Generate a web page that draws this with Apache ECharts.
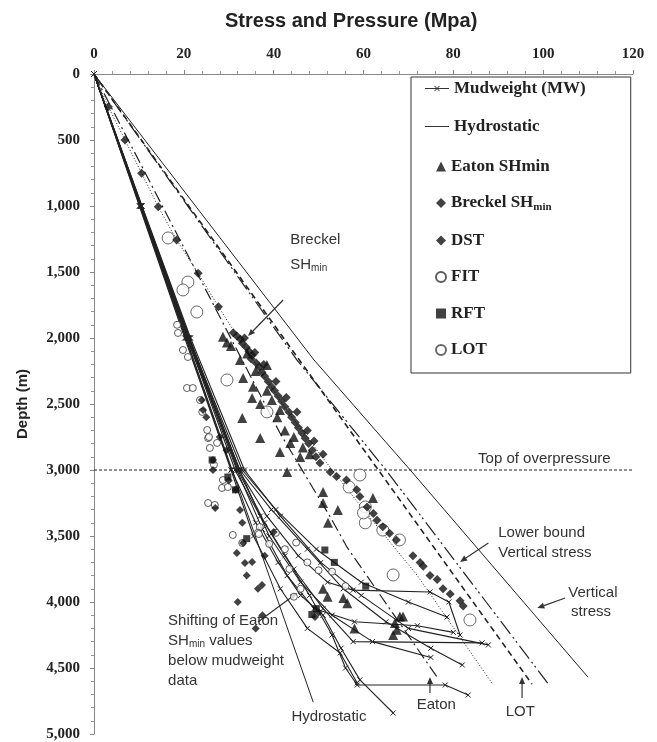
<!DOCTYPE html>
<html><head><meta charset="utf-8">
<script src="https://cdn.jsdelivr.net/npm/echarts/dist/echarts.min.js"></script>
<style>html,body{margin:0;padding:0;background:#fff}#c{width:657px;height:742px}</style>
</head><body><div id="c"></div>
<script>
// ---- data: [stress MPa, depth m] ----
const verticalStress = [[0,0],[49,2167],[70.4,3000],[110,4570]];
const lowerBoundSv = [[0,0],[45.2,2167],[65,3000],[101,4614]];
const lotTrend = [[0,0],[63.3,3000],[97.5,4621]];
const breckelTrend = [[0,0],[3.2,248],[6.9,500],[10.6,752],[14.3,1005],[18.4,1258],[23.2,1510],[27.7,1763],[34,2100],[43,2550],[51.9,2950],[60,3300],[72,3800],[88.9,4629]];
const eatonTrend = [[0,0],[41.4,2720],[52.6,3356],[56.3,3583],[76.4,4570]];
const hydrostatic = [[0,0],[48.8,4758]];
const overpressureTop = [[0,3000],[124,3000]];

const mudweight = [
  [[0,0],[10.2,1000],[20.4,2000],[30.6,3000],[36,3400],[41,3700],[46,3950],[51,4100],[55,4350],[59.2,4590],[66.6,4841]],
  [[0,0],[10.4,1000],[20.8,2000],[31.4,3000],[37,3350],[42.5,3650],[48,3950],[53,4250],[56,4500],[58.6,4629],[78.2,4629],[83.3,4705]],
  [[0,0],[10.6,1000],[21.2,2000],[32,3000],[38,3400],[44.5,3750],[51,4050],[57.7,4300],[86.4,4310]],
  [[0,0],[10.5,1000],[21.0,2000],[32.2,3000],[38.5,3350],[45.5,3650],[52,3850],[57.7,3910],[74.8,3924],[79,4000],[81.5,4250]],
  [[0,0],[10.3,1000],[20.6,2000],[32.5,3000],[39.5,3300],[47.5,3600],[55.5,3900],[65,4150],[75,4350],[82,4477]],
  [[0,0],[10.5,1000],[21.1,2000],[33,3000],[40.5,3300],[49.5,3600],[59.5,3850],[70,4000],[78.6,4114]],
  [[0,0],[10.7,1000],[21.5,2000],[33.5,3000],[41.5,3350],[50.5,3700],[59.5,3950],[70,4200],[87.8,4325]],
  [[0,0],[10.1,1000],[20.2,2000],[30.5,3000],[35.5,3500],[41.5,3900],[47.5,4200],[54.8,4386],[58.6,4613]],
  [[0,0],[10.4,1000],[20.9,2000],[31.8,3000],[37.5,3450],[43,3800],[49,4050],[58,4150],[72,4180],[80,4230]],
  [[0,0],[10.6,1000],[21.3,2000],[32.4,3000],[39,3500],[46,3850],[53,4100],[62,4300],[75,4420]]
];

const breckel = [[3.2,248],[6.9,500],[10.6,752],[14.3,1005],[18.4,1258],[23.2,1510],[27.7,1763],
  [31.0,1960],[31.8,1985],[32.6,2010],[33.0,2040],[33.9,2070],[34.5,2100],[35.2,2130],[35.0,2160],[36.1,2190],[36.8,2220],[37.4,2260],[38.0,2290],[38.8,2330],[39.5,2370],[40.2,2400],[41.0,2440],[41.8,2480],[42.5,2520],[43.4,2560],[44.0,2600],[44.8,2640],[45.5,2680],[46.3,2720],[47.0,2760],[47.8,2800],[48.6,2850],[49.4,2900],[50.3,2947],
  [33.5,2000],[35.8,2110],[37.8,2200],[40.5,2330],[42.8,2450],[45.2,2560],[47.5,2700],[49.0,2780],[51.0,2880],
  [52.6,3015],[54.0,3050],[56.2,3075],[58.5,3150],[59.2,3200],[60.8,3280],[62.2,3330],[63.0,3380],[64.3,3430],[65.8,3480],[67.3,3530],
  [71.0,3650],[72.6,3700],[73.3,3730],[74.8,3800],[76.4,3830],[77.7,3900],[79.3,3940],[81.5,3990],[82.2,4030]];
const eaton = [[28.7,1990],[29.6,2035],[32.5,2167],[34.1,2117],[38.5,2205],[33.2,2303],[35.4,2370],[35.2,2455],[37.0,2500],[39.6,2470],[41.4,2545],[33.0,2606],[37.0,2758],[41.4,2864],[43.7,2795],[45.9,2902],[43.0,3015],[51.0,3167],[51.0,3250],[54.3,3303],[52.1,3400],[62.1,3212],
  [30.5,2060],[36.0,2250],[38.5,2400],[40.8,2600],[42.5,2700],[44.5,2750],[46.5,2830],[48.0,2880],
  [55.5,3970],[56.4,4010],[67.0,4160],[67.4,4210],[68.1,4110],[68.8,4110],[66.6,4250],[52.0,3960],[51.0,3900],[58.0,4200]];
const dst = [[24.3,2545],[26.5,2924],[26.5,3000],[31.5,3150],[27.0,3288],[32.5,3303],[33.2,3553],[31.8,3629],[33.6,3705],[35.2,3697],[24.0,2470],[25.0,2600],[28.0,2750],[29.5,2850],[30.0,3080],[33.0,3400],[34.0,3800],[36.5,3900],[32.0,4000],[37.5,4100],[40.0,3470],[38.0,3650],[36.0,4200],[50.0,4080],[37.4,3871],[49.2,4114]];
const fit = [[20.7,2379],[22.0,2379],[23.6,2470],[24.1,2560],[25.2,2697],[25.4,2758],[25.8,2833],[27.4,2795],[28.7,3076],[28.5,3136],[29.8,3129],[25.4,3250],[26.9,3265],[30.9,3492],[36.9,3432],[33.0,3553],[18.5,1900],[18.7,1962],[19.8,2091],[20.9,2144],[25.6,2750],[26.7,2960],[36.5,3475],[40.5,3476],[36.7,3485],[39.0,3560],[42.5,3600],[45.0,3550],[47.5,3700],[43.5,3750],[50.0,3760],[53.0,3770],[46.0,3900],[44.5,3960],[56.0,3880]];
const rft = [[26.3,2924],[29.8,3053],[31.5,3150],[51.4,3606],[53.5,3700],[34.0,3520],[48.5,4095],[49.5,4050],[60.5,3880]];
const lot = [[16.5,1242],[20.9,1576],[19.8,1636],[22.9,1803],[29.6,2318],[38.5,2560],[59.2,3038],[56.8,3129],[60.4,3280],[60.4,3400],[64.3,3455],[68.0,3530],[66.6,3795],[83.7,4136],[60.0,3325]];

const legendLines = ['Mudweight (MW)','Hydrostatic'];
const legendMarks = ['Eaton SHmin','Breckel SHmin','DST','FIT','RFT','LOT'];

const INK = '#222';
const chart = echarts.init(document.getElementById('c'));
const xMark = 'path://M0,0L10,10M10,0L0,10';

function lineSeries(name, data, type, width, extra) {
  return Object.assign({ name, type:'line', data, symbol:'none', silent:true, animation:false,
    lineStyle:{color:INK, width:width||1, type:type||'solid'}, itemStyle:{color:INK}, z:2 }, extra||{});
}
const series = [];
series.push(lineSeries('Vertical stress', verticalStress, 'solid', 1));
series.push(lineSeries('Lower bound', lowerBoundSv, [16,4,2,3,2,4], 1.2));
series.push(lineSeries('LOT trend', lotTrend, [6,4], 1.6));
series.push(lineSeries('Breckel trend', breckelTrend, [1,2], 1));
series.push(lineSeries('Eaton trend', eatonTrend, [12,4,2,4], 1.2));
series.push(lineSeries('Hydrostatic', hydrostatic, 'solid', 1));
series.push(lineSeries('Top of overpressure', overpressureTop, [3,2], 1, {clip:false}));
mudweight.forEach(d => series.push({ name:'Mudweight (MW)', type:'line', data:d, animation:false,
  symbol:xMark, symbolSize:5, showSymbol:true,
  lineStyle:{color:INK, width:1.1}, itemStyle:{color:INK, borderColor:INK, borderWidth:1}, z:3 }));
function scatter(name, data, symbol, size, fill, border) {
  return { name, type:'scatter', data, symbol, symbolSize:size, animation:false,
    itemStyle:{color:fill, borderColor:border||INK, borderWidth:border?1:0}, z:4 };
}
series.push(scatter('FIT', fit, 'circle', 7, '#fff', '#333'));
series.push(scatter('LOT', lot, 'circle', 12, '#fff', '#444'));
series.push(scatter('Eaton SHmin', eaton, 'triangle', 10, '#111'));
series.push(scatter('Breckel SHmin', breckel, 'diamond', 9, '#111'));
series.push(scatter('DST', dst, 'diamond', 8, '#111'));
series.push(scatter('RFT', rft, 'rect', 7, '#111'));

const legendText = {fontFamily:'Liberation Serif', fontWeight:'bold', fontSize:17, color:INK,
  rich:{ sub:{fontFamily:'Liberation Serif', fontWeight:'bold', fontSize:11, color:INK, padding:[8,0,0,0]} } };
const iconMW = 'path://M0,2.6L24,2.6L24,3.4L0,3.4Z M9.2,0.8L9.8,0.2L14.8,5.2L14.2,5.8Z M14.2,0.2L14.8,0.8L9.8,5.8L9.2,5.2Z';
const iconHydro = 'path://M0,0L24,0L24,1L0,1Z';

chart.setOption({
  backgroundColor:'#fff',
  animation:false,
  title:{ text:'Stress and Pressure (Mpa)', left:220, top:6,
    textStyle:{fontFamily:'Liberation Sans', fontWeight:'bold', fontSize:20, color:INK} },
  grid:{ left:94, top:74, right:24, bottom:8 },
  xAxis:{ type:'value', position:'top', min:0, max:120, interval:20,
    axisLine:{lineStyle:{color:'#888'}}, axisTick:{show:true, length:4, lineStyle:{color:'#888'}},
    minorTick:{show:true, splitNumber:5, length:3, lineStyle:{color:'#999'}},
    splitLine:{show:false},
    axisLabel:{fontFamily:'Liberation Serif', fontWeight:'bold', fontSize:15, color:INK, margin:12} },
  yAxis:{ type:'value', inverse:true, min:0, max:5000, interval:500,
    name:'Depth (m)', nameLocation:'middle', nameGap:64, nameRotate:90,
    nameTextStyle:{fontFamily:'Liberation Sans', fontWeight:'bold', fontSize:15, color:INK},
    axisLine:{lineStyle:{color:'#888'}}, axisTick:{show:true, length:4, lineStyle:{color:'#888'}},
    minorTick:{show:true, splitNumber:5, length:3, lineStyle:{color:'#999'}},
    splitLine:{show:false},
    axisLabel:{fontFamily:'Liberation Serif', fontWeight:'bold', fontSize:15, color:INK, margin:14,
      formatter: v => v.toLocaleString('en-US')} },
  legend:[
    { data:[{name:'Mudweight (MW)', icon:iconMW, itemStyle:{borderWidth:0, color:'#333'}},
            {name:'Hydrostatic', icon:iconHydro, itemStyle:{borderWidth:0, color:'#333'}}],
      orient:'vertical', left:411, top:77,
      backgroundColor:'#fff', borderColor:'#333', borderWidth:1,
      padding:[3,45,238,14], itemGap:21, itemWidth:24, itemHeight:12,
      textStyle:legendText, z:5 },
    { data:legendMarks, orient:'vertical', left:435, top:158,
      padding:0, itemGap:19.5, itemWidth:10, itemHeight:10,
      textStyle:legendText, z:6,
      formatter: n => n==='Breckel SHmin' ? 'Breckel SH{sub|min}' : n }
  ],
  series
});

// ---- annotations placed in data coordinates ----
const annoText = [
  {t:'Breckel', p:[43.7,1258]},
  {t:'SH{s|min}', p:[43.7,1447]},
  {t:'Top of overpressure', p:[85.5,2917]},
  {t:'Lower bound', p:[90,3477]},
  {t:'Vertical stress', p:[90,3629]},
  {t:'Vertical', p:[105.6,3932]},
  {t:'stress', p:[106.2,4076]},
  {t:'Shifting of Eaton', p:[16.5,4144]},
  {t:'SH{s|min} values', p:[16.5,4295]},
  {t:'below mudweight', p:[16.5,4447]},
  {t:'data', p:[16.5,4598]},
  {t:'Hydrostatic', p:[52.3,4871], a:'center'},
  {t:'Eaton', p:[76.2,4780], a:'center'},
  {t:'LOT', p:[94.9,4833], a:'center'}
];
const arrows = [
  [[42.1,1712],[34.3,1985]],
  [[87.8,3553],[81.5,3697]],
  [[104.9,3970],[98.7,4045]],
  [[36.5,4152],[45.2,3932]],
  [[74.8,4689],[74.8,4568]],
  [[95.3,4727],[95.3,4568]]
];
const px = p => chart.convertToPixel({gridIndex:0}, p);
const g = [];
annoText.forEach(a => {
  const q = px(a.p);
  g.push({type:'text', x:q[0], y:q[1], silent:true, style:{text:a.t, fill:'#333',
    font:'15px "Liberation Sans"', align:a.a||'left', verticalAlign:'middle',
    rich:{s:{font:'10px "Liberation Sans"', fill:'#333', padding:[7,0,0,0]}}}});
});
arrows.forEach(([a,b]) => {
  const p0 = px(a), p1 = px(b);
  const ang = Math.atan2(p1[1]-p0[1], p1[0]-p0[0]);
  const L = 7, W = 3;
  const bx = p1[0]-L*Math.cos(ang), by = p1[1]-L*Math.sin(ang);
  g.push({type:'line', silent:true, shape:{x1:p0[0],y1:p0[1],x2:bx,y2:by}, style:{stroke:'#333', lineWidth:1.2}});
  g.push({type:'polygon', silent:true, shape:{points:[[p1[0],p1[1]],
    [bx+W*Math.sin(ang), by-W*Math.cos(ang)],[bx-W*Math.sin(ang), by+W*Math.cos(ang)]]}, style:{fill:'#333'}});
});
chart.setOption({graphic:g});
</script></body></html>
